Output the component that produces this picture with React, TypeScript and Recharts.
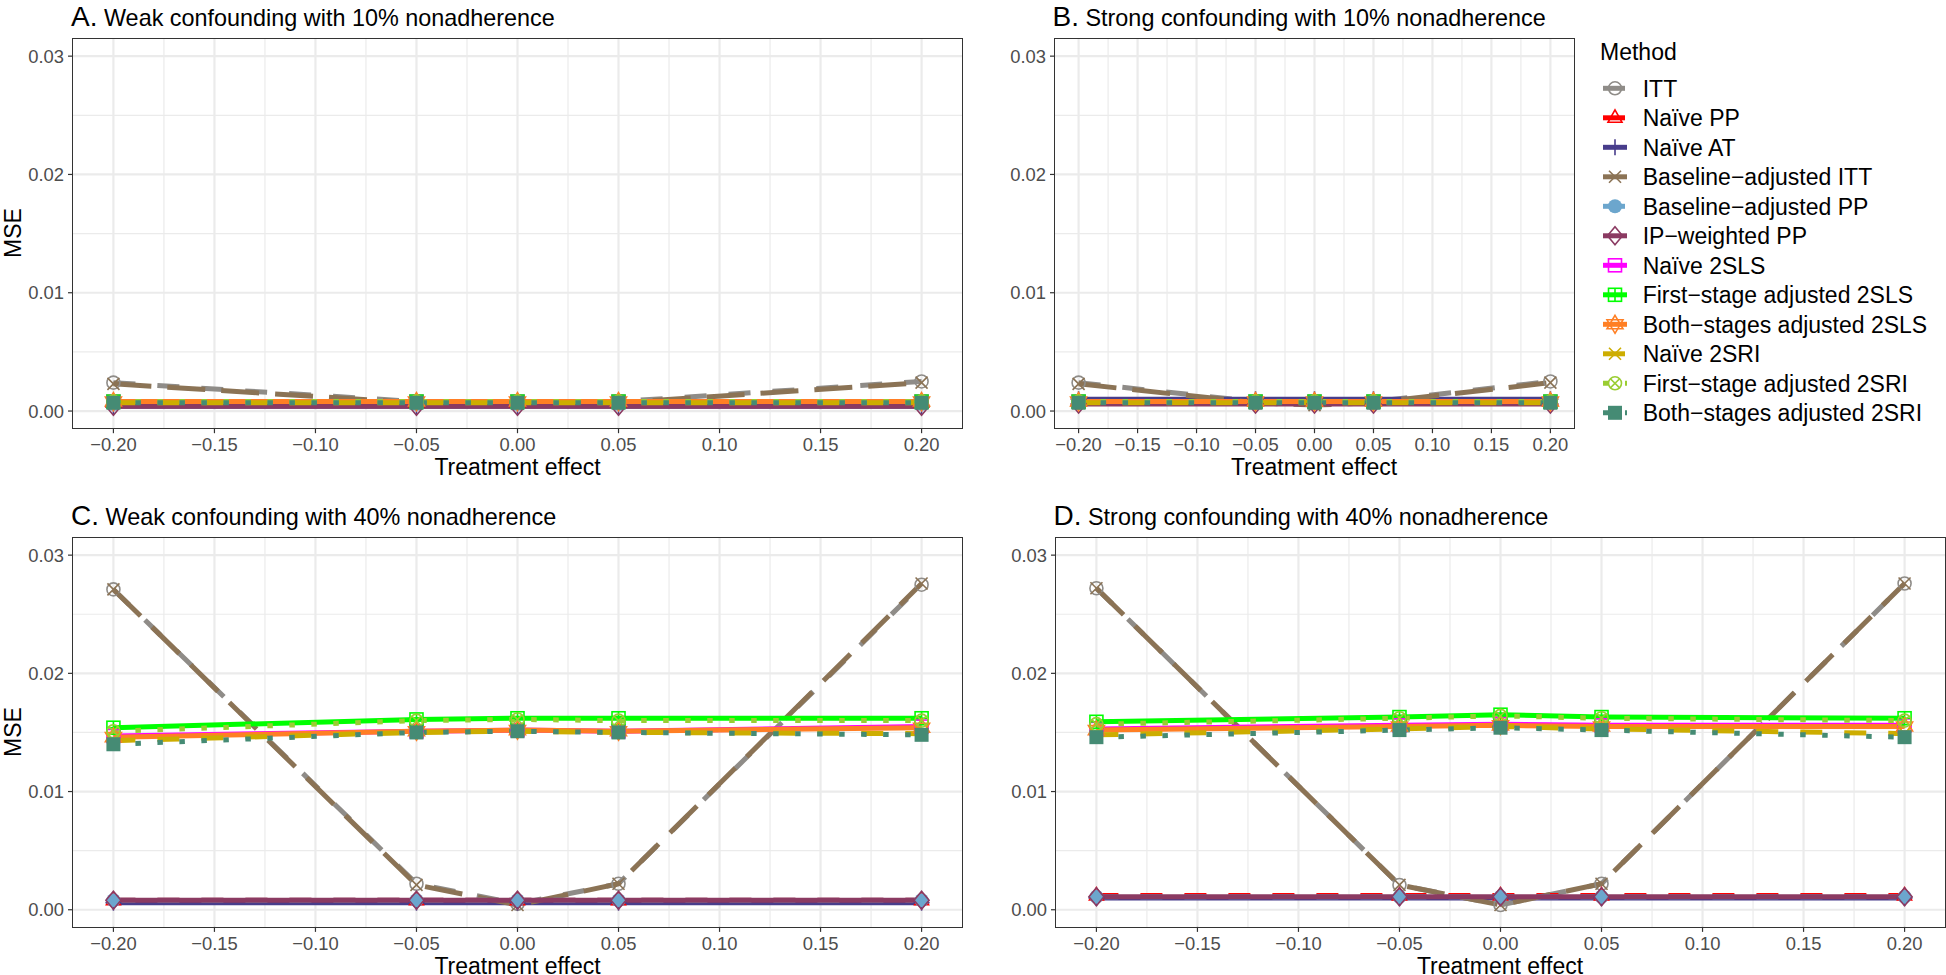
import React from "react";
import { LineChart, Line, XAxis, YAxis, CartesianGrid } from "recharts";

// x positions of the simulation scenarios
const treatmentEffects = [-0.2, -0.05, 0, 0.05, 0.2];
const xTicks = [-0.2, -0.15, -0.1, -0.05, 0, 0.05, 0.1, 0.15, 0.2];
const xMinor = [-0.175, -0.125, -0.075, -0.025, 0.025, 0.075, 0.125, 0.175];
const yTicks = [0, 0.01, 0.02, 0.03];
const yMinor = [0.005, 0.015, 0.025];

const methods = [
  "ITT",
  "Naïve PP",
  "Naïve AT",
  "Baseline−adjusted ITT",
  "Baseline−adjusted PP",
  "IP−weighted PP",
  "Naïve 2SLS",
  "First−stage adjusted 2SLS",
  "Both−stages adjusted 2SLS",
  "Naïve 2SRI",
  "First−stage adjusted 2SRI",
  "Both−stages adjusted 2SRI",
];
const methodColors = [
  "#8f8c88", "#ff0000", "#483d8b", "#8b7355", "#6ca6cd", "#8b3a62",
  "#ff00ff", "#00ff00", "#ff7f24", "#cdad00", "#9acd32", "#458b74",
];
const methodDash = [
  "22 22", "22 22", undefined, "38 16", "22 22", undefined,
  undefined, undefined, undefined, "22 22", "5.5 16.5", "5.5 16.5",
];
const methodShapes = [
  "circle", "triangle", "plus", "cross", "dot", "diamond",
  "square", "squarePlus", "star", "cross", "circleCross", "squareFilled",
];

// MSE per method (rows follow `methods`), columns follow treatmentEffects
const mseWeak10 = [
  [0.0024, 0.0008, 0.0007, 0.0008, 0.0025],
  [0.0007, 0.0007, 0.0007, 0.0007, 0.0007],
  [0.0004, 0.0004, 0.0004, 0.0004, 0.0004],
  [0.0023, 0.0007, 0.0006, 0.0007, 0.0024],
  [0.0006, 0.0006, 0.0006, 0.0006, 0.0006],
  [0.0004, 0.0004, 0.0004, 0.0004, 0.0004],
  [0.0008, 0.0008, 0.0008, 0.0008, 0.0008],
  [0.0008, 0.0008, 0.0008, 0.0008, 0.0008],
  [0.0008, 0.0008, 0.0008, 0.0008, 0.0008],
  [0.0007, 0.0007, 0.0007, 0.0007, 0.0007],
  [0.0008, 0.0008, 0.0008, 0.0008, 0.0008],
  [0.0007, 0.0007, 0.0007, 0.0007, 0.0007],
];
const mseStrong10 = [
  [0.0024, 0.0008, 0.0007, 0.0008, 0.0025],
  [0.0008, 0.0008, 0.0008, 0.0008, 0.0008],
  [0.001, 0.001, 0.001, 0.001, 0.001],
  [0.0023, 0.0007, 0.0005, 0.0007, 0.0024],
  [0.0007, 0.0007, 0.0007, 0.0007, 0.0007],
  [0.0006, 0.0006, 0.0006, 0.0006, 0.0006],
  [0.0008, 0.0008, 0.0008, 0.0008, 0.0008],
  [0.0008, 0.0008, 0.0008, 0.0008, 0.0008],
  [0.0008, 0.0008, 0.0008, 0.0008, 0.0008],
  [0.0007, 0.0007, 0.0007, 0.0007, 0.0007],
  [0.0008, 0.0008, 0.0008, 0.0008, 0.0008],
  [0.0007, 0.0007, 0.0007, 0.0007, 0.0007],
];
const mseWeak40 = [
  [0.0271, 0.0022, 0.0005, 0.0022, 0.0275],
  [0.0008, 0.0008, 0.0008, 0.0008, 0.0008],
  [0.0006, 0.0006, 0.0006, 0.0006, 0.0006],
  [0.0271, 0.0021, 0.0004, 0.0022, 0.0276],
  [0.0008, 0.0008, 0.0008, 0.0008, 0.0008],
  [0.0008, 0.0008, 0.0008, 0.0008, 0.0008],
  [0.0147, 0.0151, 0.0152, 0.0151, 0.0155],
  [0.0154, 0.0161, 0.0162, 0.0162, 0.0162],
  [0.0146, 0.0151, 0.0152, 0.0151, 0.0154],
  [0.0143, 0.015, 0.0151, 0.015, 0.0149],
  [0.0151, 0.016, 0.0161, 0.016, 0.016],
  [0.014, 0.015, 0.0151, 0.015, 0.0148],
];
const mseStrong40 = [
  [0.0272, 0.0021, 0.0004, 0.0022, 0.0276],
  [0.0012, 0.0012, 0.0012, 0.0012, 0.0012],
  [0.001, 0.001, 0.001, 0.001, 0.001],
  [0.0272, 0.0021, 0.0004, 0.0022, 0.0276],
  [0.0011, 0.0011, 0.0011, 0.0011, 0.0011],
  [0.0011, 0.0011, 0.0011, 0.0011, 0.0011],
  [0.0153, 0.0156, 0.0157, 0.0156, 0.0156],
  [0.0159, 0.0163, 0.0165, 0.0163, 0.0162],
  [0.0152, 0.0155, 0.0156, 0.0155, 0.0155],
  [0.0148, 0.0153, 0.0155, 0.0153, 0.0149],
  [0.0157, 0.0162, 0.0164, 0.0162, 0.016],
  [0.0146, 0.0152, 0.0154, 0.0152, 0.0146],
];

const FONT = "'Liberation Sans', Arial, Helvetica, sans-serif";
const TICK = { fontSize: 18.4, fill: "#4d4d4d", fontFamily: FONT };
const fmt = (v: number) => v.toFixed(2).replace("-", "−");

function toRows(mse: number[][]) {
  return treatmentEffects.map((x, j) => {
    const row: Record<string, number> = { x };
    mse.forEach((vals, i) => (row["m" + i] = vals[j]));
    return row;
  });
}

function Marker({ shape, cx, cy, color }: { shape: string; cx: number; cy: number; color: string }) {
  const sw = 1.6;
  const o = { fill: "none", stroke: color, strokeWidth: sw };
  switch (shape) {
    case "circle":
      return <circle cx={cx} cy={cy} r={6.5} {...o} />;
    case "triangle":
      return <polygon points={`${cx},${cy - 8} ${cx + 7},${cy + 4.5} ${cx - 7},${cy + 4.5}`} {...o} />;
    case "plus":
      return (
        <g {...o}>
          <line x1={cx - 8} y1={cy} x2={cx + 8} y2={cy} />
          <line x1={cx} y1={cy - 8} x2={cx} y2={cy + 8} />
        </g>
      );
    case "cross":
      return (
        <g {...o}>
          <line x1={cx - 6} y1={cy - 6} x2={cx + 6} y2={cy + 6} />
          <line x1={cx - 6} y1={cy + 6} x2={cx + 6} y2={cy - 6} />
        </g>
      );
    case "dot":
      return <circle cx={cx} cy={cy} r={7} fill={color} />;
    case "diamond":
      return <polygon points={`${cx},${cy - 9} ${cx + 7.5},${cy} ${cx},${cy + 9} ${cx - 7.5},${cy}`} {...o} />;
    case "square":
      return <rect x={cx - 6.5} y={cy - 6.5} width={13} height={13} {...o} />;
    case "squarePlus":
      return (
        <g {...o}>
          <rect x={cx - 6.5} y={cy - 6.5} width={13} height={13} />
          <line x1={cx - 6.5} y1={cy} x2={cx + 6.5} y2={cy} />
          <line x1={cx} y1={cy - 6.5} x2={cx} y2={cy + 6.5} />
        </g>
      );
    case "star":
      return (
        <g {...o}>
          <polygon points={`${cx},${cy - 9} ${cx + 8},${cy + 4.5} ${cx - 8},${cy + 4.5}`} />
          <polygon points={`${cx},${cy + 9} ${cx + 8},${cy - 4.5} ${cx - 8},${cy - 4.5}`} />
        </g>
      );
    case "circleCross":
      return (
        <g {...o}>
          <circle cx={cx} cy={cy} r={6.5} />
          <line x1={cx - 4.6} y1={cy - 4.6} x2={cx + 4.6} y2={cy + 4.6} />
          <line x1={cx - 4.6} y1={cy + 4.6} x2={cx + 4.6} y2={cy - 4.6} />
        </g>
      );
    default:
      return <rect x={cx - 7} y={cy - 7} width={14} height={14} fill={color} />;
  }
}

type Geo = { L: number; R: number; T: number; B: number };

function Panel({ g, mse, tag, title, yTitle }: { g: Geo; mse: number[][]; tag: string; title: string; yTitle: boolean }) {
  const data = toRows(mse);
  const plotW = g.R - g.L;
  const plotH = g.B - g.T;
  return (
    <>
      <div style={{ position: "absolute", left: g.L - 73, top: g.T - 20 }}>
        <LineChart width={73 + plotW + 12} height={20 + plotH + 40} data={data} margin={{ top: 20, right: 12, bottom: 0, left: 0 }}>
          <CartesianGrid stroke="#ebebeb" strokeWidth={1.2} horizontalValues={yMinor} verticalValues={xMinor} />
          <CartesianGrid stroke="#ebebeb" strokeWidth={2.2} horizontalValues={yTicks} verticalValues={xTicks} />
          <XAxis
            type="number"
            dataKey="x"
            domain={[-0.22, 0.22]}
            ticks={xTicks}
            tickFormatter={fmt}
            allowDataOverflow
            height={40}
            axisLine={false}
            tickLine={{ stroke: "#333333", strokeWidth: 1.2 }}
            tickSize={5}
            tickMargin={5}
            tick={TICK}
            interval={0}
          />
          <YAxis
            type="number"
            domain={[-0.00145, 0.03145]}
            ticks={yTicks}
            tickFormatter={fmt}
            allowDataOverflow
            width={73}
            axisLine={false}
            tickLine={{ stroke: "#333333", strokeWidth: 1.2 }}
            tickSize={5}
            tickMargin={4}
            tick={TICK}
            interval={0}
          />
          {methods.map((m, i) => (
            <Line
              key={"line" + i}
              name={m}
              dataKey={"m" + i}
              type="linear"
              stroke={methodColors[i]}
              strokeWidth={5}
              strokeDasharray={methodDash[i]}
              strokeLinecap="butt"
              dot={false}
              activeDot={false}
              isAnimationActive={false}
            />
          ))}
          {methods.map((m, i) => (
            <Line
              key={"pts" + i}
              name={m}
              dataKey={"m" + i}
              stroke="none"
              dot={(p: any) => (
                <Marker key={"mk" + i + "-" + p.index} shape={methodShapes[i]} cx={p.cx} cy={p.cy} color={methodColors[i]} />
              )}
              activeDot={false}
              isAnimationActive={false}
            />
          ))}
        </LineChart>
      </div>
      <div
        style={{
          position: "absolute",
          left: g.L - 0.7,
          top: g.T - 0.7,
          width: plotW,
          height: plotH,
          border: "1.4px solid #333333",
          pointerEvents: "none",
        }}
      />
      <div style={{ position: "absolute", left: g.L - 2, top: g.T - 37, whiteSpace: "nowrap", lineHeight: "30px", color: "#000" }}>
        <span style={{ fontSize: 28 }}>{tag}</span>
        <span style={{ fontSize: 23.4 }}> {title}</span>
      </div>
      <div
        style={{
          position: "absolute",
          left: (g.L + g.R) / 2,
          top: g.B + 39.5,
          transform: "translate(-50%, -50%)",
          fontSize: 23,
          whiteSpace: "nowrap",
          color: "#000",
        }}
      >
        Treatment effect
      </div>
      {yTitle && (
        <div
          style={{
            position: "absolute",
            left: 13,
            top: (g.T + g.B) / 2,
            transform: "translate(-50%, -50%) rotate(-90deg)",
            fontSize: 23,
            whiteSpace: "nowrap",
            color: "#000",
          }}
        >
          MSE
        </div>
      )}
    </>
  );
}

function Legend() {
  return (
    <svg style={{ position: "absolute", left: 1590, top: 30 }} width={356} height={400}>
      <text x={10} y={30} fontSize={23} fontFamily={FONT} fill="#000">
        Method
      </text>
      {methods.map((m, i) => {
        const cy = 58.3 + 29.5 * i;
        return (
          <g key={m}>
            <line x1={13} y1={cy} x2={37} y2={cy} stroke={methodColors[i]} strokeWidth={5} strokeDasharray={methodDash[i]} />
            <Marker shape={methodShapes[i]} cx={25} cy={cy} color={methodColors[i]} />
            <text x={52.7} y={cy + 8.3} fontSize={23} fontFamily={FONT} fill="#000">
              {m}
            </text>
          </g>
        );
      })}
    </svg>
  );
}

export default function App() {
  return (
    <div style={{ position: "absolute", left: 0, top: 0, width: 1946, height: 975, background: "#fff", fontFamily: FONT }}>
      <Panel g={{ L: 73, R: 962, T: 38.5, B: 427.7 }} mse={mseWeak10} tag="A." title="Weak confounding with 10% nonadherence" yTitle />
      <Panel g={{ L: 1054.5, R: 1573.5, T: 38.5, B: 427.7 }} mse={mseStrong10} tag="B." title="Strong confounding with 10% nonadherence" yTitle={false} />
      <Panel g={{ L: 73, R: 962, T: 537.6, B: 926.5 }} mse={mseWeak40} tag="C." title="Weak confounding with 40% nonadherence" yTitle />
      <Panel g={{ L: 1055.5, R: 1944.5, T: 537.6, B: 926.5 }} mse={mseStrong40} tag="D." title="Strong confounding with 40% nonadherence" yTitle={false} />
      <Legend />
    </div>
  );
}
